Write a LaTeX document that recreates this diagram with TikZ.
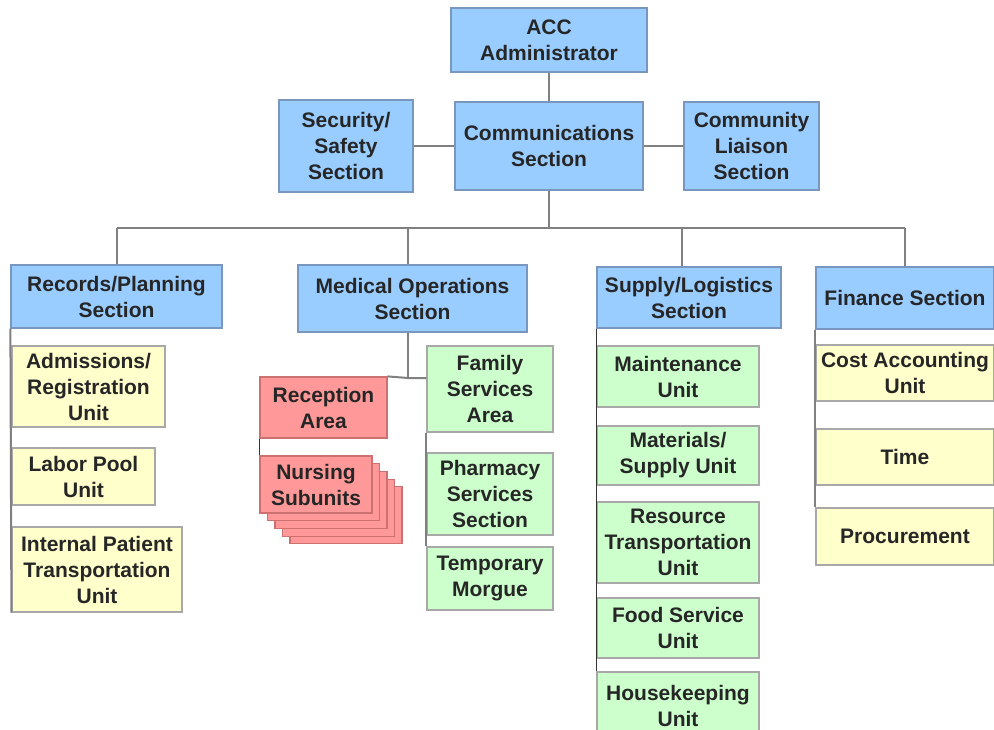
\documentclass[tikz,border=0pt]{standalone}
\usepackage{fontspec}
\setmainfont{Liberation Sans}
\definecolor{secblue}{HTML}{99CCFF}
\definecolor{secedge}{HTML}{7896BE}
\definecolor{unityellow}{HTML}{FFFFCC}
\definecolor{unitgreen}{HTML}{CCFFCC}
\definecolor{unitred}{HTML}{FF9999}
\definecolor{rededge}{HTML}{CC7070}
\definecolor{boxedge}{HTML}{A8A8A8}
\definecolor{linkgray}{HTML}{808080}

\begin{document}
\begin{tikzpicture}[x=1pt, y=-1pt,
    box/.style = {draw, line width=1.2pt, align=center, inner sep=2pt,
                  font=\bfseries\fontsize{21}{26}\selectfont, text=black!85},
    blue/.style = {box, fill=secblue, draw=secedge},
    yellow/.style = {box, fill=unityellow, draw=boxedge},
    green/.style = {box, fill=unitgreen, draw=boxedge},
    red/.style = {box, fill=unitred, draw=rededge},
    link/.style = {draw=linkgray, line width=2pt},
    thinlink/.style = {draw=black!80, line width=1.3pt}]
            \useasboundingbox (0,0) rectangle (994,729);
            \clip (0,0) rectangle (994,729);

            \node[blue, minimum width=196pt, minimum height=64pt] (acc) at (549,40) {ACC\\Administrator};
            \node[blue, minimum width=134pt, minimum height=92pt] (sec) at (346,146) {Security/\\Safety\\Section};
            \node[blue, minimum width=188pt, minimum height=88pt] (comm) at (549,146) {Communications\\Section};
            \node[blue, minimum width=135pt, minimum height=88pt] (liai) at (751.5,146) {Community\\Liaison\\Section};

            \node[blue, minimum width=211pt, minimum height=63pt] (rec) at (116.5,296.5) {Records/Planning\\Section};
            \node[blue, minimum width=229pt, minimum height=67pt] (med) at (412.5,298.5) {Medical Operations\\Section};
            \node[blue, minimum width=184pt, minimum height=61pt] (sup) at (689,297.5) {Supply/Logistics\\Section};
            \node[blue, minimum width=178pt, minimum height=62pt] (fin) at (905,298) {Finance Section};

            \node[yellow, minimum width=153pt, minimum height=81pt] (adm) at (88.5,386.5) {Admissions/\\Registration\\Unit};
            \node[yellow, minimum width=143pt, minimum height=57pt] (labor) at (83.5,476.5) {Labor Pool\\Unit};
            \node[yellow, minimum width=170pt, minimum height=85pt] (intern) at (97,569.5) {Internal Patient\\Transportation\\Unit};

            \node[red, minimum width=127pt, minimum height=61pt] (recep) at (323.5,407.5) {Reception\\Area};
            \foreach \k in {4,3,2,1}
                \draw[fill=unitred, draw=rededge, line width=1.2pt]
                    (260+7.5*\k,456+7.7*\k) rectangle ++(112,57);
            \node[red, minimum width=112pt, minimum height=57pt] (nurse) at (316,484.5) {Nursing\\Subunits};

            \node[green, minimum width=126pt, minimum height=86pt] (fam) at (490,389) {Family\\Services\\Area};
            \node[green, minimum width=126pt, minimum height=82pt] (pharm) at (490,494) {Pharmacy\\Services\\Section};
            \node[green, minimum width=126pt, minimum height=63pt] (morgue) at (490,578.5) {Temporary\\Morgue};

            \node[green, minimum width=162pt, minimum height=61pt] (maint) at (678,376.5) {Maintenance\\Unit};
            \node[green, minimum width=162pt, minimum height=59pt] (mat) at (678,455.5) {Materials/\\Supply Unit};
            \node[green, minimum width=162pt, minimum height=81pt] (res) at (678,542.5) {Resource\\Transportation\\Unit};
            \node[green, minimum width=162pt, minimum height=60pt] (food) at (678,628) {Food Service\\Unit};
            \node[green, minimum width=162pt, minimum height=68pt] (house) at (678,706) {Housekeeping\\Unit};

            \node[yellow, minimum width=178pt, minimum height=56pt] (cost) at (905,373) {Cost Accounting\\Unit};
            \node[yellow, minimum width=178pt, minimum height=56pt] (time) at (905,457) {Time};
            \node[yellow, minimum width=178pt, minimum height=57pt] (proc) at (905,536.5) {Procurement};

            \coordinate (bus) at (549,228);
            \coordinate (mj) at (408,378);

            \draw[link] (acc) -- (comm);
            \draw[link] (sec) -- (comm);
            \draw[link] (comm) -- (liai);
            \draw[link] (comm.south) -- (bus);
            \draw[link] (rec.north |- bus) -- (fin.north |- bus);
            \draw[link] (rec.north |- bus) -- (rec.north);
            \draw[link] (mj |- bus) -- (mj |- med.north);
            \draw[link] (682,228) -- (682,0 |- sup.north);
            \draw[link] (fin.north |- bus) -- (fin.north);

            \draw[link] (rec.south west) -- (intern.south west);
            \draw[link] (mj |- med.south) -- (mj);
            \draw[link] (recep.north east) -- (mj) -- (fam.west |- mj);
            \draw[thinlink] (recep.south west) -- (nurse.north west);
            \draw[link] (fam.south west) -- (morgue.north west);
            \draw[thinlink] (sup.south west) -- (house.north west);
            \draw[link] (fin.south west) -- (proc.north west);
        \end{tikzpicture}
\end{document}
